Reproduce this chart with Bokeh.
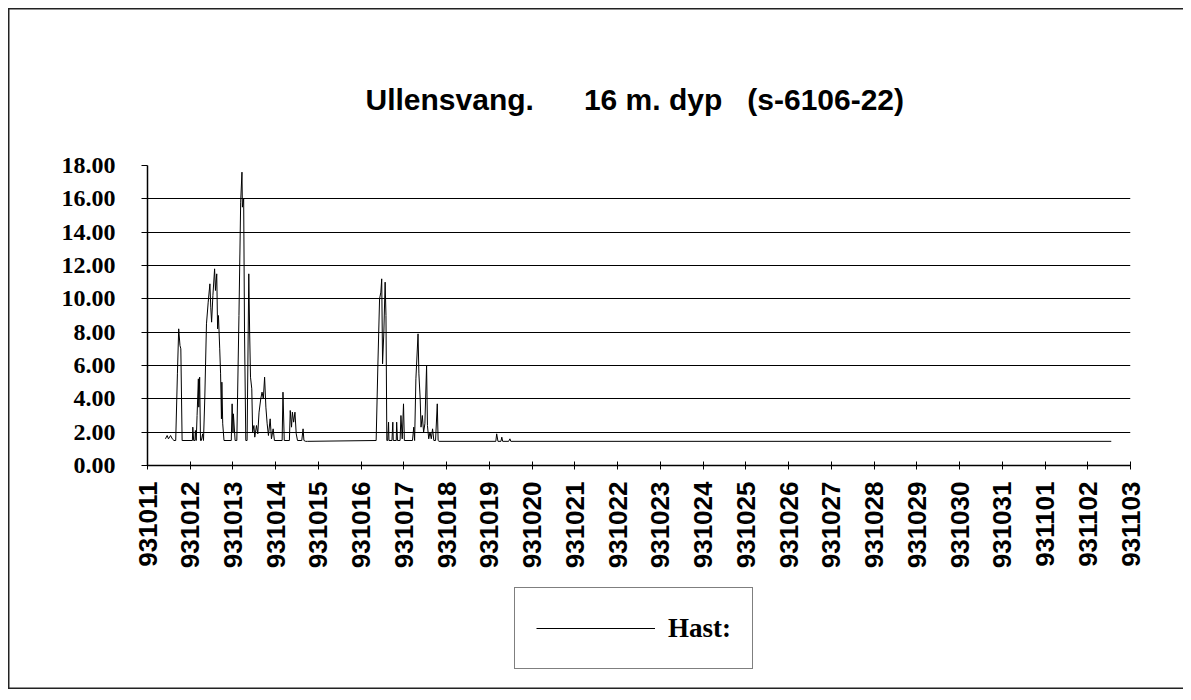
from bokeh.plotting import figure
from bokeh.layouts import column
from bokeh.models import (Range1d, FixedTicker, NumeralTickFormatter, Title,
                          Legend, LegendItem)
from bokeh.embed import file_html
from bokeh.resources import INLINE
import math

# ---- data -------------------------------------------------------------
tick_labels = ["931011", "931012", "931013", "931014", "931015", "931016",
               "931017", "931018", "931019", "931020", "931021", "931022",
               "931023", "931024", "931025", "931026", "931027", "931028",
               "931029", "931030", "931031", "931101", "931102", "931103"]

# time in days after 931011 00:00
days = [0.42, 0.46, 0.49, 0.54, 0.58, 0.62, 0.66, 0.70, 0.73, 0.76, 0.78, 0.81,
        1.05, 1.06, 1.08, 1.11, 1.12, 1.14, 1.16, 1.19, 1.20, 1.22, 1.24, 1.26,
        1.29, 1.31, 1.34, 1.38, 1.42, 1.46, 1.48, 1.50, 1.53, 1.57, 1.59, 1.62,
        1.64, 1.66, 1.69, 1.71, 1.73, 1.74, 1.76, 1.79, 1.96, 1.98, 2.00, 2.01,
        2.05, 2.09, 2.14, 2.18, 2.21, 2.22, 2.25, 2.27, 2.30, 2.33, 2.37, 2.39,
        2.41, 2.44, 2.46, 2.49, 2.51, 2.55, 2.58, 2.61, 2.65, 2.68, 2.71, 2.74,
        2.77, 2.80, 2.83, 2.87, 2.90, 2.94, 2.97, 3.15, 3.17, 3.20, 3.32, 3.34,
        3.37, 3.39, 3.42, 3.45, 3.48, 3.51, 3.61, 3.64, 3.66, 3.70, 3.74,
        5.35, 5.39, 5.43, 5.46, 5.48, 5.50, 5.53, 5.56, 5.58, 5.60, 5.62, 5.64,
        5.65, 5.72, 5.74, 5.75, 5.82, 5.83, 5.85, 5.91, 5.93, 5.96, 5.99, 6.01,
        6.20, 6.23, 6.25, 6.28, 6.33, 6.35, 6.38, 6.40, 6.43, 6.46, 6.49, 6.53,
        6.55, 6.58, 6.61, 6.64, 6.67, 6.70, 6.74, 6.78, 6.80, 6.82,
        8.15, 8.17, 8.20, 8.27, 8.29, 8.31, 8.45, 8.48, 8.50, 22.55]

hast = [1.6, 1.8, 1.6, 1.8, 1.6, 1.5, 1.5, 5.5, 8.2, 7.2, 7.0, 1.5,
        1.5, 2.3, 1.5, 1.5, 2.1, 1.5, 3.0, 5.2, 3.5, 5.3, 1.5, 1.5,
        1.9, 1.5, 4.0, 8.5, 9.8, 10.9, 9.5, 8.6, 10.2, 11.8, 10.5, 11.5,
        8.2, 9.0, 7.0, 5.5, 2.8, 5.0, 2.5, 1.5, 1.5, 3.7, 2.0, 3.1,
        1.5, 1.5, 9.0, 15.8, 17.6, 15.5, 16.0, 8.0, 1.5, 1.5, 11.5, 8.0,
        5.3, 4.6, 2.0, 2.4, 1.7, 2.4, 1.9, 3.2, 4.0, 4.4, 4.0, 5.3,
        3.5, 2.5, 1.8, 2.8, 1.6, 2.2, 1.5, 1.5, 4.4, 1.5, 1.5, 3.3,
        2.3, 3.2, 2.6, 3.2, 1.9, 1.5, 1.5, 2.2, 1.5, 1.45, 1.45,
        1.5, 6.0, 10.0, 10.4, 11.2, 6.1, 8.0, 11.0, 9.0, 1.5, 1.5, 2.6,
        1.5, 1.5, 2.6, 1.5, 1.5, 2.6, 1.5, 1.5, 3.0, 1.6, 3.7, 1.5,
        1.5, 2.3, 1.5, 5.2, 7.9, 5.5, 4.0, 2.3, 3.0, 2.0, 2.5, 6.0,
        2.4, 1.6, 2.0, 1.6, 2.2, 1.5, 1.5, 3.7, 1.5, 1.45,
        1.45, 1.9, 1.45, 1.45, 1.7, 1.45, 1.45, 1.6, 1.45, 1.45]

y_ticks = [0, 2, 4, 6, 8, 10, 12, 14, 16, 18]

title_text = ("Ullensvang." + "\u00a0" * 6 + "16 m. dyp" + "\u00a0" * 3
              + "(s-6106-22)")
series_name = "Hast:"

# ---- main chart -------------------------------------------------------
W = 1175
H1 = 567
H2 = 114
p = figure(width=W, height=H1, output_backend="svg", toolbar_location=None,
           x_range=Range1d(0, len(tick_labels) - 1), y_range=Range1d(0, 18),
           min_border_left=139, min_border_right=53,
           min_border_top=157, min_border_bottom=110)
p.outline_line_color = None
p.background_fill_color = "white"
p.border_fill_color = None

line_style = dict(line_color="black", line_width=1)
p.line(days, hast, **line_style)

p.xaxis.ticker = FixedTicker(ticks=list(range(len(tick_labels))))
p.xaxis.major_label_overrides = {i: t for i, t in enumerate(tick_labels)}
p.xaxis.major_label_orientation = math.pi / 2
p.xaxis.major_label_text_font = "Liberation Sans"
p.xaxis.major_label_text_font_style = "bold"
p.xaxis.major_label_text_font_size = "26px"
p.xaxis.major_label_text_color = "black"
p.xaxis.major_tick_in = 4
p.xaxis.major_tick_out = 4
p.xaxis.minor_tick_line_color = None
p.xaxis.major_label_standoff = 12
p.xaxis.axis_line_color = "black"
p.xaxis.axis_line_width = 1.5
p.xaxis.major_tick_line_color = "black"

p.yaxis.ticker = FixedTicker(ticks=y_ticks)
p.yaxis.formatter = NumeralTickFormatter(format="0.00")
p.yaxis.major_label_text_font = "Liberation Serif"
p.yaxis.major_label_text_font_style = "bold"
p.yaxis.major_label_text_font_size = "24px"
p.yaxis.major_label_text_color = "black"
p.yaxis.major_tick_in = 0
p.yaxis.major_tick_out = 6
p.yaxis.minor_tick_line_color = None
p.yaxis.major_label_standoff = 26
p.yaxis.axis_line_color = "black"
p.yaxis.axis_line_width = 1.5
p.yaxis.major_tick_line_color = "black"

p.xgrid.grid_line_color = None
p.ygrid.grid_line_color = "black"
p.ygrid.grid_line_width = 1.2
p.ygrid.ticker = FixedTicker(ticks=y_ticks)

p.add_layout(Title(text=title_text, align="left", offset=218, standoff=100,
                   text_font="Liberation Sans",
                   text_font_style="bold", text_font_size="30px",
                   text_color="black"), "above")

# ---- legend strip -----------------------------------------------------
q = figure(width=W, height=H2, output_backend="svg", toolbar_location=None,
           x_range=Range1d(100, 200), y_range=Range1d(100, 200),
           min_border_left=0, min_border_right=0,
           min_border_top=0, min_border_bottom=0)
q.axis.visible = False
q.grid.grid_line_color = None
q.outline_line_color = None
q.background_fill_color = None
q.border_fill_color = None
key = q.line(days, hast, **line_style)   # same series, outside the strip's view

legend = Legend(items=[LegendItem(label=series_name, renderers=[key])],
                location=(367, 20), orientation="vertical",
                glyph_width=119, glyph_height=38, label_standoff=13,
                padding=21, margin=0, spacing=0,
                border_line_color="black", border_line_width=1.2,
                background_fill_color="white", background_fill_alpha=1,
                label_text_font="Liberation Serif",
                label_text_font_style="bold", label_text_font_size="27px",
                label_text_color="black")
q.add_layout(legend)

page = column(p, q, spacing=0)
page.styles = {"margin-left": "8px", "margin-top": "8px",
               "box-shadow": "inset 1.5px 0 0 #222, inset 0 1.5px 0 #222, inset 0 -1.5px 0 #222"}

open("out.html", "w").write(file_html(page, INLINE))
